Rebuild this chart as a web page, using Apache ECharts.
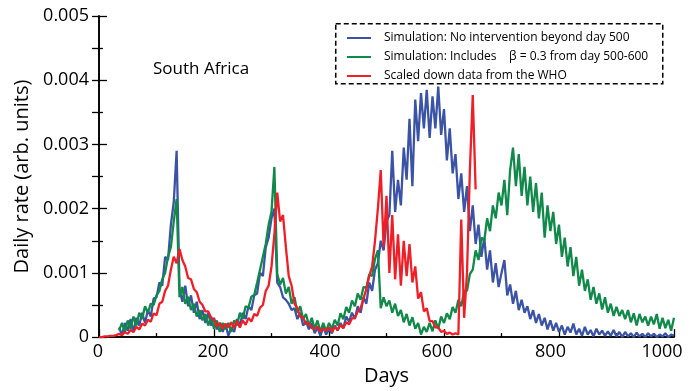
<!DOCTYPE html>
<html>
<head>
<meta charset="utf-8">
<script src="https://cdn.jsdelivr.net/npm/echarts@6/dist/echarts.min.js"></script>
<style>
html,body{margin:0;padding:0;background:#fff;}
#chart{width:695px;height:391px;}
</style>
</head>
<body>
<div id="chart"></div>
<script>
// ---- data (values in units of 0.001, sampled every STEP days) ----
const STEP = 5;
const UNIT = 0.001;
const seriesNames = [
  'Simulation: No intervention beyond day 500',
  'Simulation: Includes    \u03b2 = 0.3 from day 500-600',
  'Scaled down data from the WHO'
];
const xTickLabels = [0, 200, 400, 600, 800, 1000];
const yTickLabels = ['0', '0.001', '0.002', '0.003', '0.004', '0.005'];
const panelTitle = 'South Africa';

const blueStart = 35;
const blueValues = [
  0.15,0.03,0.22,0.1,0.28,0.08,0.3,0.18,0.38,0.22,  // 35-80
  0.42,0.32,0.6,0.62,0.85,0.8,1.25,1.2,1.75,2.1,    // 85-130
  2.9,0.75,0.55,0.8,0.48,0.65,0.38,0.55,0.28,0.42,  // 135-180
  0.22,0.38,0.18,0.3,0.12,0.22,0.08,0.2,0.02,0.15,  // 185-230
  0.08,0.28,0.18,0.38,0.28,0.48,0.42,0.65,0.68,1.0, // 235-280
  0.95,1.4,1.55,1.85,2.0,0.85,0.78,0.62,0.58,0.52,  // 285-330
  0.42,0.45,0.28,0.38,0.18,0.25,0.12,0.22,0.06,0.15,// 335-380
  0.02,0.16,0.04,0.12,0.06,0.18,0.1,0.22,0.14,0.32, // 385-430
  0.24,0.38,0.28,0.48,0.38,0.62,0.52,0.85,0.72,1.05,// 435-480
  1.15,1.5,1.35,1.8,1.9,2.9,1.95,2.45,2.05,2.95,    // 485-530
  2.45,3.4,2.35,3.7,3.05,3.8,3.25,3.85,3.1,3.75,    // 535-580
  3.25,3.9,3.15,3.55,2.75,3.25,2.55,2.85,2.15,2.55, // 585-630
  1.95,2.35,1.65,2.05,1.45,1.75,1.25,1.55,1.05,1.35,// 635-680
  0.85,1.15,0.78,1.0,1.2,0.65,0.82,0.52,0.72,0.42,  // 685-730
  0.58,0.38,0.48,0.28,0.42,0.22,0.36,0.18,0.3,0.12, // 735-780
  0.26,0.1,0.22,0.08,0.18,0.04,0.16,0.07,0.21,0.04, // 785-830
  0.13,0.02,0.16,0.04,0.11,0.01,0.13,0.04,0.1,0.02, // 835-880
  0.09,0.02,0.11,0.01,0.08,0.0,0.08,0.01,0.06,0.0,  // 885-930
  0.07,0.01,0.05,0.0,0.06,0.01,0.05,0.0,0.04,0.01,  // 935-980
  0.06,0.0,0.04,0.02                                 // 985-1000
];

const greenStart = 35;
const greenValues = [
  0.1,0.22,0.08,0.26,0.13,0.32,0.18,0.38,0.28,0.48, // 35-80
  0.38,0.52,0.5,0.65,0.72,0.9,1.0,1.25,1.4,1.8,     // 85-130
  2.15,0.62,0.78,0.52,0.63,0.42,0.52,0.32,0.42,0.26,// 135-180
  0.36,0.18,0.32,0.13,0.26,0.08,0.22,0.12,0.22,0.08,// 185-230
  0.26,0.18,0.38,0.28,0.48,0.46,0.63,0.66,0.85,1.05,// 235-280
  1.25,1.45,1.75,1.95,2.65,0.98,0.82,0.92,0.68,0.78,// 285-330
  0.52,0.62,0.38,0.48,0.28,0.36,0.18,0.3,0.13,0.26, // 335-380
  0.08,0.22,0.09,0.22,0.13,0.27,0.18,0.37,0.28,0.47,// 385-430
  0.38,0.57,0.48,0.68,0.58,0.78,0.77,0.98,0.95,1.22,// 435-480
  1.35,0.45,0.62,0.48,0.57,0.38,0.52,0.33,0.42,0.23,// 485-530
  0.36,0.18,0.31,0.13,0.22,0.04,0.16,0.08,0.22,0.09,// 535-580
  0.26,0.13,0.32,0.22,0.37,0.28,0.47,0.38,0.58,0.48,// 585-630
  0.72,0.72,0.98,1.05,1.35,1.2,1.55,1.5,1.85,1.65,  // 635-680
  2.05,1.85,2.25,2.05,2.45,1.9,2.6,2.95,2.35,2.85,  // 685-730
  2.2,2.65,2.05,2.5,1.95,2.4,1.85,2.25,1.55,2.05,   // 735-780
  1.65,1.95,1.45,1.75,1.25,1.55,1.1,1.4,0.95,1.25,  // 785-830
  0.8,1.05,0.72,0.9,0.58,0.78,0.52,0.68,0.43,0.62,  // 835-880
  0.38,0.52,0.33,0.47,0.33,0.42,0.28,0.42,0.23,0.37,// 885-930
  0.18,0.36,0.23,0.32,0.18,0.32,0.2,0.36,0.13,0.3,  // 935-980
  0.14,0.27,0.1,0.3                                  // 985-1000
];

const redStart = 0;
const redValues = [
  0,0,0.01,0.01,0.02,0.02,0.03,0.05,0.03,0.08,      // 0-45
  0.05,0.11,0.08,0.16,0.12,0.21,0.18,0.27,0.24,0.37,// 50-95
  0.34,0.52,0.55,0.72,0.8,1.05,1.25,1.15,1.37,1.2,  // 100-145
  1.1,0.92,0.9,0.75,0.7,0.55,0.5,0.4,0.4,0.3,       // 150-195
  0.27,0.17,0.22,0.13,0.21,0.15,0.23,0.14,0.25,0.15,// 200-245
  0.26,0.19,0.3,0.24,0.36,0.33,0.46,0.5,0.72,0.8,   // 250-295
  1.1,1.6,2.25,1.8,1.9,1.4,0.95,0.8,0.52,0.45,      // 300-345
  0.32,0.3,0.2,0.22,0.14,0.13,0.16,0.09,0.13,0.1,   // 350-395
  0.15,0.09,0.16,0.11,0.19,0.14,0.23,0.2,0.29,0.3,  // 400-445
  0.4,0.45,0.6,0.75,0.95,1.1,1.5,2.0,2.6,1.4,       // 450-495
  2.2,1.0,1.9,0.9,1.6,0.8,1.5,0.95,1.45,0.85,       // 500-545
  1.1,0.6,0.7,0.4,0.45,0.25,0.25,0.15,0.15,0.08,    // 550-595
  0.1,0.05,0.07,0.04,0.06,0.04,1.83,0.3,1.0,2.6,    // 600-645
  3.77,2.3                                           // 650-655
];

// ---- build ----
function toPairs(start, values) {
  return values.map((v, i) => [start + i * STEP, v * UNIT]);
}
const colors = ['#3a53a4', '#11894a', '#ee1f26'];
const FONT = 'Open Sans';

// small leftward shifts of the x tick labels, as in the reference figure
const xLabelShift = {0: 2, 200: 2, 400: 8, 600: 14, 800: 17, 1000: 24};
const xRich = {};
xTickLabels.forEach(v => {
  xRich['s' + v] = {fontFamily: FONT, fontSize: 18, color: '#000', padding: [0, xLabelShift[v], 0, 0]};
});

const chart = echarts.init(document.getElementById('chart'), null, {renderer: 'canvas'});
const option = {
  animation: false,
  backgroundColor: '#fff',
  grid: {left: 99, right: 21, top: 16, bottom: 53, containLabel: false},
  xAxis: [{
    type: 'value', min: 0, max: 1000, interval: 200,
    name: 'Days', nameLocation: 'middle', nameGap: 24,
    nameTextStyle: {fontFamily: FONT, fontSize: 20, color: '#000'},
    axisLine: {show: true, lineStyle: {color: '#000', width: 1.6}},
    axisTick: {show: true, inside: true, length: 8, lineStyle: {color: '#000', width: 1.3}},
    minorTick: {show: true, splitNumber: 2, length: 4, lineStyle: {color: '#000', width: 1.3}},
    splitLine: {show: false},
    axisLabel: {
      margin: 6,
      formatter: v => xTickLabels.indexOf(v) >= 0 ? '{s' + v + '|' + v + '}' : '',
      rich: xRich
    }
  }, {
    type: 'value', min: 0, max: 1000, position: 'top',
    axisLine: {show: true, lineStyle: {color: '#000', width: 1.6}},
    axisTick: {show: false}, axisLabel: {show: false}, splitLine: {show: false}
  }],
  yAxis: [{
    type: 'value', min: 0, max: 0.005, interval: 0.001,
    name: 'Daily rate (arb. units)', nameLocation: 'middle', nameGap: 65,
    nameTextStyle: {fontFamily: FONT, fontSize: 20, color: '#000'},
    axisLine: {show: true, lineStyle: {color: '#000', width: 1.6}},
    axisTick: {show: true, inside: true, length: 8, lineStyle: {color: '#000', width: 1.3}},
    minorTick: {show: true, splitNumber: 2, length: 4, lineStyle: {color: '#000', width: 1.3}},
    splitLine: {show: false},
    axisLabel: {
      margin: 10, fontFamily: FONT, fontSize: 18, color: '#000',
      formatter: v => yTickLabels[Math.round(v / UNIT)]
    }
  }, {
    type: 'value', min: 0, max: 0.005, interval: 0.0005, position: 'right',
    axisLine: {show: true, lineStyle: {color: '#000', width: 1.6}},
    axisTick: {show: true, inside: true, length: 7, lineStyle: {color: '#000', width: 1.3}},
    axisLabel: {show: false}, splitLine: {show: false}
  }],
  legend: {
    orient: 'vertical', left: 342, top: 26,
    itemWidth: 24, itemHeight: 2, itemGap: 5,
    icon: 'rect',
    textStyle: {fontFamily: FONT, fontSize: 12, color: '#000', lineHeight: 14, padding: [0, 0, 0, 8]},
    data: seriesNames
  },
  graphic: [{
    type: 'rect', left: 335, top: 23, z: 10,
    shape: {width: 327, height: 60},
    style: {fill: 'transparent', stroke: '#000', lineWidth: 1.5, lineDash: [5, 3]}
  }, {
    type: 'text', left: 153, top: 61, z: 10,
    style: {text: panelTitle, fontFamily: FONT, fontSize: 17, fill: '#000'}
  }],
  series: [
    {name: seriesNames[0], type: 'line', data: toPairs(blueStart, blueValues), showSymbol: false,
     lineStyle: {color: colors[0], width: 2.3}, itemStyle: {color: colors[0]}},
    {name: seriesNames[1], type: 'line', data: toPairs(greenStart, greenValues), showSymbol: false,
     lineStyle: {color: colors[1], width: 2.3}, itemStyle: {color: colors[1]}},
    {name: seriesNames[2], type: 'line', data: toPairs(redStart, redValues), showSymbol: false,
     lineStyle: {color: colors[2], width: 2.3}, itemStyle: {color: colors[2]}}
  ]
};
chart.setOption(option);
</script>
</body>
</html>
